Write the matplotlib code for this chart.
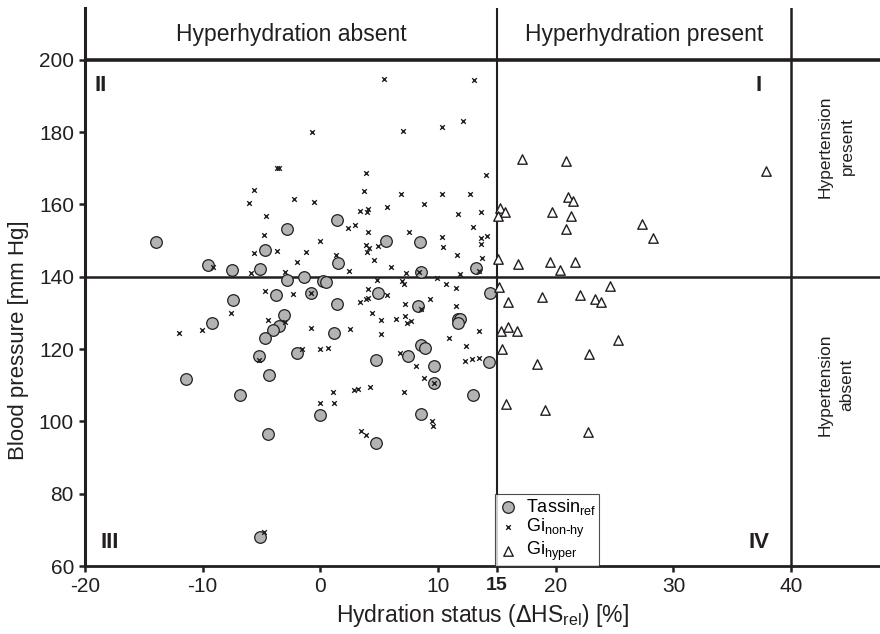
import matplotlib
matplotlib.use("Agg")
import matplotlib.pyplot as plt
from matplotlib import font_manager

# Tassin_ref (grey circles): hydration status [%], blood pressure [mm Hg]
tassin_x = [-13.97, -9.52, -7.5, -5.13, -2.86, -4.67, -2.86, 1.42, 5.55, 8.5,
            1.47, 13.23, 8.56, -1.36, 0.26, 0.48, -0.79, 1.42, 4.9, 8.27,
            11.67, 11.87, 11.73, -3.09, -3.51, -4.05, 1.19, 14.45, -1.98, 4.76,
            7.45, 8.56, 8.93, 9.63, 14.3, 9.63, 13.0, -0.03, 8.56, 4.7,
            -3.74, -7.4, -9.18, -4.68, -5.19, -4.34, -11.4, -6.85, -4.48, -5.13]
tassin_y = [149.6, 143.1, 141.9, 142.1, 153.3, 147.5, 139.1, 155.8, 149.9, 149.7,
            143.8, 142.3, 141.4, 140.0, 138.9, 138.4, 135.5, 132.4, 135.5, 132.0,
            128.3, 128.4, 127.2, 129.4, 126.4, 125.3, 124.4, 135.5, 118.9, 117.1,
            118.1, 121.0, 120.3, 115.3, 116.3, 110.7, 107.3, 101.7, 102.1, 93.9,
            134.9, 133.6, 127.3, 123.0, 118.1, 112.7, 111.7, 107.4, 96.5, 68.1]

# Gi non-hy (crosses)
nonhy_x = [-9.16, -5.9, -3.0, -3.7, -3.48, -5.66, -6.06, -4.65, -4.79, -5.66, -3.72,
           5.44, 13.06, -0.68, 7.05, 10.3, 12.15, 3.9, 14.1, -2.27, -0.57, 3.68,
           6.86, 10.37, 12.72, 3.34, 4.05, 4.0, 5.63, 8.81, 11.7, 13.66, 12.98,
           2.38, 2.97, 4.03, 7.57, 10.31, 10.4, -0.03, 13.68, 14.14, 13.68, -1.25,
           -2.01, 1.36, 3.85, 4.16, 3.97, 4.93, 4.54, 6.0, 11.59, 13.71, 13.49,
           2.4, 8.4, 7.3, 11.87, 4.79, 6.97, 7.08, 9.88, 10.68, 11.5,
           -2.36, -0.79, 4.05, 3.4, 3.85, 4.05, 5.63, 7.23, 8.52, 9.29, 11.53,
           -3.0, -0.79, 2.49, 4.39, 5.12, 5.18, 6.44, 7.2, 7.37, 7.7, 10.96,
           13.46, 12.35, -1.53, -0.03, 0.63, 6.77, 8.1, 12.32, 12.92, 13.49,
           8.81, 9.63, 1.08, 2.86, 3.2, 4.25, 7.11, -0.03, 1.14, 9.46, 9.58,
           3.48, 3.88, -4.68, -7.57, -12.04, -10.08, -4.42, -5.21, -4.76]
nonhy_y = [142.8, 141.0, 141.3, 170.0, 170.0, 164.1, 160.3, 156.7, 151.4, 146.5, 147.0,
           194.8, 194.5, 180.0, 180.4, 181.3, 183.1, 168.8, 168.2, 161.5, 160.6, 163.6,
           162.8, 163.0, 163.0, 158.1, 158.8, 157.9, 159.3, 160.1, 157.4, 157.9, 153.7,
           153.6, 154.3, 152.3, 152.3, 151.0, 148.2, 150.0, 150.8, 151.2, 149.0, 146.7,
           144.0, 146.0, 148.8, 147.9, 146.9, 148.5, 144.6, 142.7, 146.0, 145.1, 141.5,
           141.5, 141.2, 141.0, 140.7, 139.1, 138.9, 138.1, 139.6, 138.0, 137.0,
           135.2, 135.5, 136.6, 133.0, 133.9, 134.0, 135.0, 132.4, 131.0, 133.9, 131.9,
           127.6, 125.9, 125.6, 129.9, 128.0, 124.2, 128.4, 129.2, 127.2, 127.8, 123.0,
           125.0, 120.8, 120.0, 120.0, 120.2, 119.0, 115.3, 116.8, 117.2, 117.5,
           112.0, 110.7, 108.1, 108.7, 109.0, 109.6, 108.0, 105.1, 105.1, 100.1, 98.7,
           97.3, 96.1, 136.0, 129.9, 124.5, 125.3, 127.9, 116.9, 69.5]

# Gi hyper (open triangles)
hyper_x = [17.17, 20.9, 37.9, 21.0, 21.44, 15.27, 15.67, 15.1, 19.66, 21.3,
           20.9, 27.35, 28.3, 15.1, 16.77, 19.52, 21.6, 20.34,
           15.21, 24.6, 15.98, 18.8, 22.04, 23.37, 23.86, 15.38, 15.9, 16.69,
           25.3, 15.41, 22.84, 18.42, 15.81, 19.12, 22.75]
hyper_y = [172.5, 171.9, 169.1, 161.9, 161.0, 158.9, 157.9, 156.7, 157.9, 156.8,
           153.3, 154.7, 150.8, 144.9, 143.5, 144.0, 144.0, 141.9,
           137.1, 137.4, 133.0, 134.4, 134.9, 133.8, 133.1, 125.0, 126.0, 125.1,
           122.5, 120.1, 118.5, 115.8, 104.9, 103.1, 97.0]

xticks = [-20, -10, 0, 10, 15, 20, 30, 40]
yticks = [60, 80, 100, 120, 140, 160, 180, 200]

names = {f.name for f in font_manager.fontManager.ttflist}
narrow = "Liberation Sans Narrow" if "Liberation Sans Narrow" in names else "Liberation Sans"
plt.rcParams["font.family"] = [narrow, "DejaVu Sans"]
regular = ["Liberation Sans", "DejaVu Sans"]

dark = "#231f20"
fig = plt.figure(figsize=(8.8, 6.34), dpi=100)
ax = fig.add_axes([85 / 880, 68 / 634, 795 / 880, 558 / 634])
ax.set_xlim(-20, 47.55)
ax.set_ylim(60, 214.3)

for s in ["top", "right"]:
    ax.spines[s].set_visible(False)
ax.spines["left"].set_linewidth(2.2)
ax.spines["bottom"].set_linewidth(2.0)
ax.spines["left"].set_color(dark)
ax.spines["bottom"].set_color(dark)

# quadrant lines
ax.axhline(200, color=dark, lw=2.6, zorder=1)
ax.axhline(140, color=dark, lw=1.8, zorder=1)
ax.axvline(15, color=dark, lw=1.5, zorder=1)
ax.axvline(40, color=dark, lw=1.8, zorder=1)

ax.scatter(tassin_x, tassin_y, s=70, marker="o", facecolor="#b3b3b3",
           edgecolor=dark, linewidth=0.9, zorder=3, label="Tassin$_{\\mathregular{ref}}$")
ax.scatter(nonhy_x, nonhy_y, s=11, marker="x", color=dark, linewidth=1.0,
           zorder=4, label="Gi$_{\\mathregular{non\\text{-}hy}}$")
ax.scatter(hyper_x, hyper_y, s=46, marker="^", facecolor="white",
           edgecolor=dark, linewidth=1.0, zorder=4, label="Gi$_{\\mathregular{hyper}}$")

ax.set_xticks(xticks)
ax.set_xticklabels([str(t) for t in xticks])
ax.set_yticks(yticks)
ax.tick_params(axis="both", direction="out", length=4, width=1.8, color=dark,
               labelsize=15, labelcolor=dark, pad=4)
for lab in ax.get_xticklabels():
    if lab.get_text() == "15":
        lab.set_fontweight("bold")
        lab.set_fontfamily(regular)
        lab.set_fontsize(14)

ax.set_xlabel("Hydration status ($\\Delta$HS$_{\\mathregular{rel}}$) [%]", fontsize=16.5,
              color=dark, labelpad=4)
ax.set_ylabel("Blood pressure [mm Hg]", fontsize=16, color=dark, family=regular)
ax.yaxis.set_label_coords(-0.071, 0.405)

# headers and region labels
ax.text(-2.5, 207.0, "Hyperhydration absent", ha="center", va="center",
        fontsize=16.5, color=dark)
ax.text(27.5, 207.0, "Hyperhydration present", ha="center", va="center",
        fontsize=16.5, color=dark)
ax.text(43.8, 176.0, "Hypertension\npresent", ha="center", va="center", rotation=90,
        fontsize=12.5, color=dark, linespacing=1.6)
ax.text(43.8, 110.0, "Hypertension\nabsent", ha="center", va="center", rotation=90,
        fontsize=12.5, color=dark, linespacing=1.6)

bold = dict(fontsize=16, fontweight="bold", color=dark, ha="center", va="center",
            family=regular)
ax.text(-18.7, 193.0, "II", **bold)
ax.text(37.2, 193.0, "I", **bold)
ax.text(-17.9, 66.5, "III", **bold)
ax.text(37.3, 66.5, "IV", **bold)

leg = ax.legend(loc="lower left", bbox_to_anchor=(14.8, 60), bbox_transform=ax.transData,
                fontsize=13, frameon=True, fancybox=False, borderpad=0.15,
                handletextpad=0.4, labelspacing=0.0, handlelength=1.2,
                borderaxespad=0.0)
leg.get_frame().set_edgecolor(dark)
leg.get_frame().set_linewidth(0.8)

fig.savefig("out.png", dpi=100)
